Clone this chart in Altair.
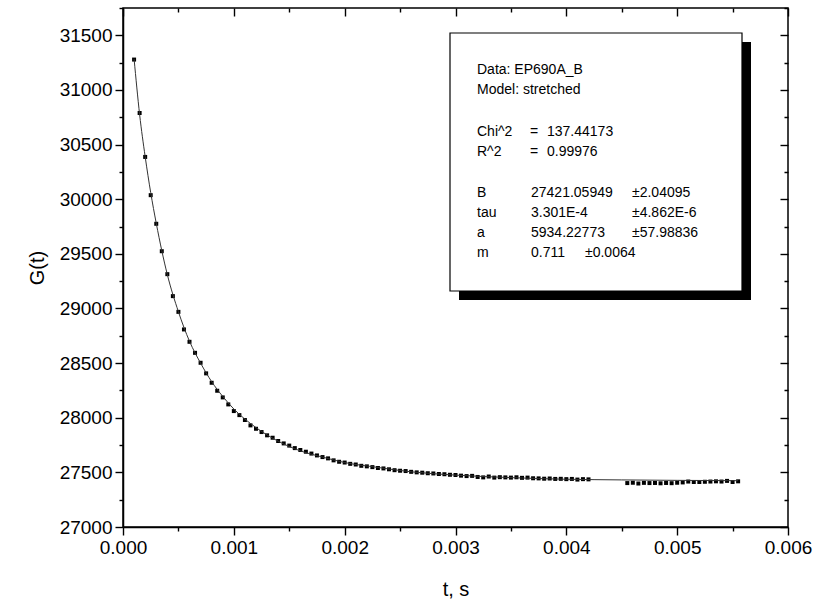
import altair as alt
import pandas as pd

# ---- data ----
t_pts = [0.00010, 0.00015, 0.00020, 0.00025, 0.00030, 0.00035, 0.00040, 0.00045, 0.00050, 0.00055,
         0.00060, 0.00065, 0.00070, 0.00075, 0.00080, 0.00085, 0.00090, 0.00095, 0.00100, 0.00105,
         0.00110, 0.00115, 0.00120, 0.00125, 0.00130, 0.00135, 0.00140, 0.00145, 0.00150, 0.00155,
         0.00160, 0.00165, 0.00170, 0.00175, 0.00180, 0.00185, 0.00190, 0.00195, 0.00200, 0.00205,
         0.00210, 0.00215, 0.00220, 0.00225, 0.00230, 0.00235, 0.00240, 0.00245, 0.00250, 0.00255,
         0.00260, 0.00265, 0.00270, 0.00275, 0.00280, 0.00285, 0.00290, 0.00295, 0.00300, 0.00305,
         0.00310, 0.00315, 0.00320, 0.00325, 0.00330, 0.00335, 0.00340, 0.00345, 0.00350, 0.00355,
         0.00360, 0.00365, 0.00370, 0.00375, 0.00380, 0.00385, 0.00390, 0.00395, 0.00400, 0.00405,
         0.00410, 0.00415, 0.00420,
         0.00455, 0.00460, 0.00465, 0.00470, 0.00475, 0.00480, 0.00485, 0.00490, 0.00495, 0.00500,
         0.00505, 0.00510, 0.00515, 0.00520, 0.00525, 0.00530, 0.00535, 0.00540, 0.00545, 0.00550,
         0.00555]
g_pts = [31278, 30789, 30387, 30037, 29775, 29524, 29314, 29113, 28969, 28808,
         28695, 28594, 28503, 28406, 28320, 28247, 28186, 28122, 28061, 28024,
         27979, 27930, 27899, 27869, 27839, 27817, 27787, 27765, 27745, 27722,
         27705, 27689, 27672, 27655, 27640, 27628, 27610, 27597, 27590, 27578,
         27572, 27560, 27555, 27548, 27540, 27536, 27528, 27520, 27515, 27512,
         27505, 27500, 27497, 27492, 27490, 27485, 27483, 27478, 27476, 27470,
         27466, 27468, 27458, 27454, 27462, 27452, 27456, 27454, 27452, 27455,
         27450, 27452, 27446, 27445, 27442, 27444, 27440, 27441, 27438, 27440,
         27434, 27438, 27436,
         27402, 27405, 27398, 27404, 27402, 27403, 27400, 27403, 27401, 27405,
         27408, 27416, 27412, 27412, 27414, 27416, 27418, 27416, 27422, 27412,
         27418]

t_fit = [0.00010, 0.00015, 0.00020, 0.00025, 0.00030, 0.00040, 0.00050, 0.00060, 0.00070, 0.00080,
         0.00090, 0.00100, 0.00120, 0.00140, 0.00160, 0.00180, 0.00200, 0.00230, 0.00260, 0.00300,
         0.00350, 0.00400, 0.00450, 0.00500, 0.00555]
g_fit = [31285, 30775, 30390, 30060, 29780, 29310, 28970, 28700, 28500, 28330,
         28195, 28080, 27910, 27785, 27697, 27640, 27590, 27545, 27505, 27475,
         27452, 27437, 27431, 27427, 27424]

x_ticks = [0.0, 0.0005, 0.001, 0.0015, 0.002, 0.0025, 0.003, 0.0035, 0.004, 0.0045,
           0.005, 0.0055, 0.006]
y_ticks = [27000, 27250, 27500, 27750, 28000, 28250, 28500, 28750, 29000, 29250,
           29500, 29750, 30000, 30250, 30500, 30750, 31000, 31250, 31500, 31750]

box_rows = [
    ["Data: EP690A_B", "", "", ""],
    ["Model: stretched", "", "", ""],
    ["Chi^2", "=", "137.44173", ""],
    ["R^2", "=", "0.99976", ""],
    ["B", "", "27421.05949", "±2.04095"],
    ["tau", "", "3.301E-4", "±4.862E-6"],
    ["a", "", "5934.22773", "±57.98836"],
    ["m", "", "0.711", ""],
]
m_err = "±0.0064"

# ---- layout ----
W, H = 665, 519
FONT = "Liberation Sans"
MAJ, MIN = 8, 4

pts_df = pd.DataFrame({"t": t_pts, "g": g_pts})
fit_df = pd.DataFrame({"t": t_fit, "g": g_fit})

xs = alt.Scale(domain=[0, 0.006], nice=False, zero=False)
ys = alt.Scale(domain=[27000, 31750], nice=False, zero=False)

x_major = "round(datum.value*10000) % 10 == 0"
y_major = "datum.value % 500 == 0"

common = dict(grid=False, tickColor="black", tickWidth=1.4, labelColor="black",
              labelFont=FONT, labelFontSize=19, labelOverlap=False, labelFlush=False,
              labelBound=False, titleFont=FONT, titleFontSize=20, titleFontWeight="normal",
              titleColor="black")

x_bottom = alt.Axis(orient="bottom", values=x_ticks, title="t, s", domain=True, domainColor="black",
                    domainWidth=1.5,
                    labelExpr=f"{x_major} ? format(datum.value, '.3f') : ''",
                    tickSize={"condition": {"test": x_major, "value": MAJ}, "value": MIN},
                    labelPadding=3, titlePadding=22, **common)
y_left = alt.Axis(orient="left", values=y_ticks, title="G(t)", domain=True, domainColor="black",
                  domainWidth=1.5,
                  labelExpr=f"{y_major} ? format(datum.value, 'd') : ''",
                  tickSize={"condition": {"test": y_major, "value": MAJ}, "value": MIN},
                  labelPadding=3, titlePadding=12, **common)
# mirrored axes: ticks pointing into the plot
x_top = alt.Axis(orient="top", offset=-MAJ, values=x_ticks, title=None, domain=False, labels=False,
                 tickSize=MAJ,
                 tickDash={"condition": {"test": x_major, "value": [MAJ, 0]}, "value": [0, MAJ - MIN, MIN, 0]},
                 grid=False, tickColor="black", tickWidth=1.4)
y_right = alt.Axis(orient="right", offset=-MAJ, values=y_ticks, title=None, domain=False, labels=False,
                   tickSize=MAJ,
                   tickDash={"condition": {"test": y_major, "value": [MAJ, 0]}, "value": [0, MAJ - MIN, MIN, 0]},
                   grid=False, tickColor="black", tickWidth=1.4)

line = alt.Chart(fit_df).mark_line(color="#333333", strokeWidth=1, interpolate="monotone").encode(
    x=alt.X("t:Q", scale=xs, axis=x_top),
    y=alt.Y("g:Q", scale=ys, axis=y_right),
)
points = alt.Chart(pts_df).mark_square(color="black", size=16, opacity=1).encode(
    x=alt.X("t:Q", scale=xs, axis=x_bottom),
    y=alt.Y("g:Q", scale=ys, axis=y_left),
)

one = alt.Data(values=[{"k": 1}])
# annotation box, in plot-area pixels
bx0, by0, bx1, by1 = 327, 25, 619, 283
sh = 9
shadow = alt.Chart(one).mark_rect(color="black").encode(
    x=alt.value(bx0 + sh), x2=alt.value(bx1 + sh), y=alt.value(by0 + sh), y2=alt.value(by1 + sh))
box = alt.Chart(one).mark_rect(fill="white", stroke="black", strokeWidth=1.2).encode(
    x=alt.value(bx0), x2=alt.value(bx1), y=alt.value(by0), y2=alt.value(by1))

row_y = [62, 82, 124, 144, 185, 205, 225, 245]
col_x = [354, 407, 424, 509]
texts = []
for r, row in enumerate(box_rows):
    for c, s in enumerate(row):
        if not s:
            continue
        cx = col_x[c]
        if c == 2 and r >= 4:
            cx = 408
        texts.append(alt.Chart(one).mark_text(text=s, align="left", baseline="middle", font=FONT,
                                              fontSize=14, color="black").encode(
            x=alt.value(cx), y=alt.value(row_y[r])))
texts.append(alt.Chart(one).mark_text(text=m_err, align="left", baseline="middle", font=FONT,
                                      fontSize=14, color="black").encode(
    x=alt.value(462), y=alt.value(row_y[7])))

chart = alt.layer(points, line, shadow, box, *texts).resolve_axis(
    x="independent", y="independent"
).properties(
    width=W, height=H,
    padding={"left": 123, "top": 8, "right": 28, "bottom": 84},
    autosize=alt.AutoSizeParams(type="none"),
    background="white",
).configure_view(stroke="black", strokeWidth=1.5)

chart.save("out.html", embed_options={"renderer": "svg", "actions": False})
